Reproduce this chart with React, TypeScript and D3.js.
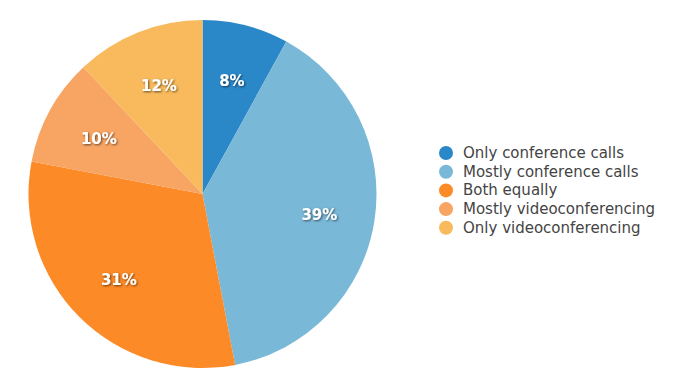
import React from "react";
import * as d3 from "d3";

const categories = [
  "Only conference calls",
  "Mostly conference calls",
  "Both equally",
  "Mostly videoconferencing",
  "Only videoconferencing",
];
const values = [8, 39, 31, 10, 12];
const colors = ["#2a87c8", "#7ab8d8", "#fc8a26", "#f8a462", "#f8ba5c"];

export default function App() {
  const W = 675, H = 386;
  const cx = 202.5, cy = 194, r = 174;
  const pie = d3.pie<number>().sort(null).value((d) => d);
  const arcs = pie(values);
  const arc = d3.arc<d3.PieArcDatum<number>>().innerRadius(0).outerRadius(r);
  const labelArc = d3.arc<d3.PieArcDatum<number>>().innerRadius(r * 0.68).outerRadius(r * 0.68);
  const total = d3.sum(values);
  const legendY = d3.scaleLinear().domain([0, 1]).range([153, 171.7]);
  return (
    <svg width={W} height={H} style={{ position: "absolute", left: 0, top: 0 }}>
      <defs>
        <filter id="sh" x="-20%" y="-20%" width="140%" height="140%">
          <feDropShadow dx="1" dy="1" stdDeviation="0.8" floodColor="#000" floodOpacity="0.6" />
        </filter>
      </defs>
      <rect width={W} height={H} fill="#fff" />
      <g transform={`translate(${cx},${cy})`}>
        {arcs.map((a, i) => (
          <path key={i} d={arc(a) || ""} fill={colors[i]} />
        ))}
        {arcs.map((a, i) => {
          const [x, y] = labelArc.centroid(a);
          return (
            <text
              key={"l" + i}
              x={x}
              y={y + 2}
              textAnchor="middle"
              dominantBaseline="central"
              fontFamily="DejaVu Sans, Verdana, sans-serif"
              fontWeight="bold"
              fontSize={15}
              fill="#fff"
              filter="url(#sh)"
            >
              {Math.round((values[i] / total) * 100) + "%"}
            </text>
          );
        })}
      </g>
      <g>
        {categories.map((c, i) => (
          <g key={c} transform={`translate(446,${legendY(i)})`}>
            <circle r={7} fill={colors[i]} />
            <text
              x={17}
              y={0}
              dominantBaseline="central"
              fontFamily="DejaVu Sans, Verdana, sans-serif"
              fontSize={15}
              fill="#444"
            >
              {c}
            </text>
          </g>
        ))}
      </g>
    </svg>
  );
}
